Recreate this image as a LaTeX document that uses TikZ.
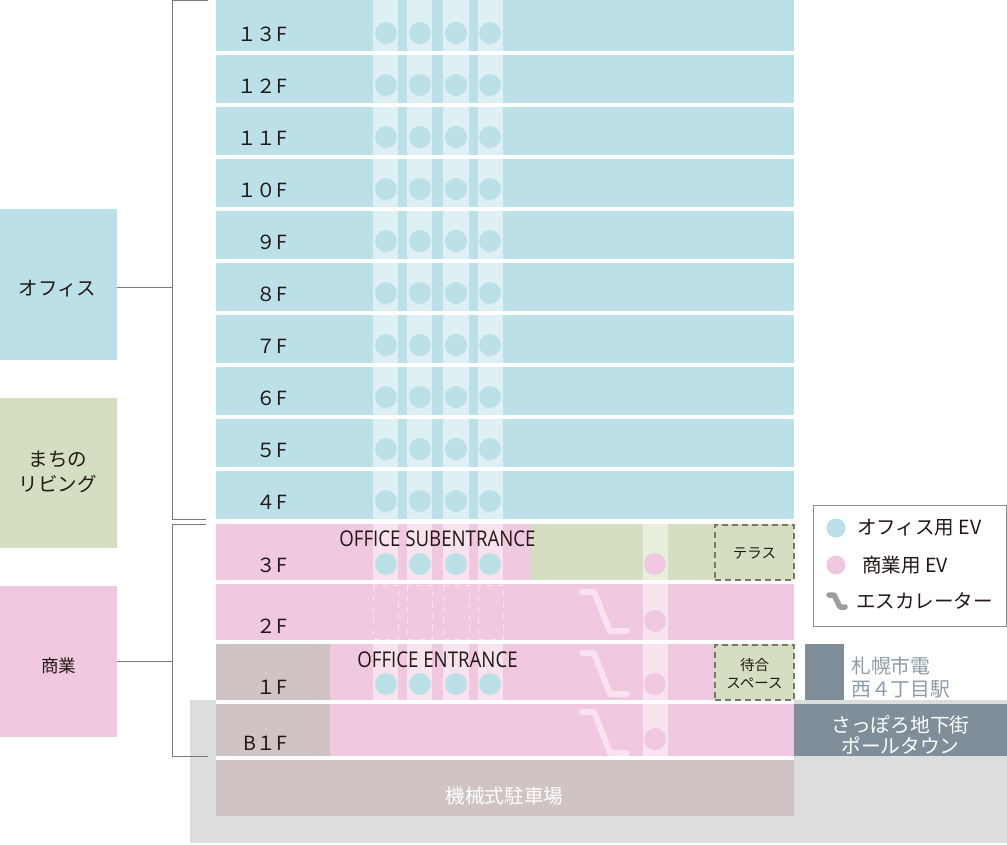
\documentclass[tikz,border=0pt]{standalone}
\usepackage{fontspec}
\setmainfont{Noto Sans CJK JP}
\newfontfamily\latn[FakeStretch=0.86]{Open Sans}
\definecolor{cblue}{HTML}{BBE0E7}
\definecolor{cpink}{HTML}{F0C8DF}
\definecolor{cgreen}{HTML}{D3DFC0}
\definecolor{cbrown}{HTML}{CFC3C3}
\definecolor{cgrey}{HTML}{DCDDDD}
\definecolor{cdark}{HTML}{7F8E99}
\definecolor{cblueL}{HTML}{DFF0F4}
\definecolor{cpinkL}{HTML}{F8E3EF}
\definecolor{cgreenL}{HTML}{E8EFDD}
\definecolor{ctext}{HTML}{231815}
\definecolor{cdash}{HTML}{767A64}
\definecolor{cstation}{HTML}{8C9CA9}
\tikzset{
  blk/.style={inner sep=0pt,outer sep=0pt},
  side/.style={inner sep=0pt,text=ctext,align=center,font=\fontsize{19.5}{25}\selectfont},
  small/.style={inner sep=0pt,text=ctext,align=center,font=\fontsize{14.5}{18}\selectfont},
  flabel/.style={inner sep=0pt,anchor=east,text=ctext,font=\fontsize{19.5}{20}\selectfont},
  evdot/.style={inner sep=0pt,minimum size=22pt,circle,fill=#1},
  escal/.style={line width=6pt,line cap=round,line join=round,draw=#1},
  brack/.style={draw=black!52,line width=0.8pt},
  dashbox/.style={draw=cdash,line width=2pt,dash pattern=on 6pt off 4pt,fill=cgreen},
  entr/.style={inner sep=0pt,text=ctext,font=\latn\fontsize{21.7}{24}\selectfont},
  legtext/.style={inner sep=0pt,anchor=west,text=ctext,font=\fontsize{19.5}{22}\selectfont},
  wlabel/.style={inner sep=0pt,text=white,align=center,font=\fontsize{19.7}{21}\selectfont}
}
\newcommand{\rectnode}[6]{% style, name, x0, y0, x1, y1
  \pgfmathsetlengthmacro{\rw}{(#5-#3)*1pt}\pgfmathsetlengthmacro{\rh}{(#6-#4)*1pt}
  \node[blk,#1,anchor=north west,minimum width=\rw,minimum height=\rh] (#2) at (#3,#4) {};}
\begin{document}
\begin{tikzpicture}[x=1pt,y=-1pt]
\useasboundingbox (0,0) rectangle (1007,844);
% ground
\fill[cgrey] (190,700) rectangle (1007,843);
\fill[white] (216,700) rectangle (794,704);
\fill[white] (216,756) rectangle (794,760);
% office floors
\foreach \t/\b/\lab [count=\i] in {0/51/１３F,55/103/１２F,107/155/１１F,159/207/１０F,211/259/９F,263/311/８F,315/363/７F,367/415/６F,419/467/５F,471/519/４F}{
  \rectnode{fill=cblue}{fl\i}{216}{\t}{794}{\b}
  \foreach \a/\c in {373/398,407/432,443/469,478/503}{\fill[cblueL] (\a,\t) rectangle (\c,\b);}
  \foreach \c in {386,420,456,490}{\node[evdot=cblue] at (\c,\b-18) {};}
  \node[flabel] at (287,\b-17) {\lab};
}
% 3F
\rectnode{fill=cpink}{fl3}{216}{524}{531}{580}
\fill[cgreen] (531,524) rectangle (794,580);
\foreach \a/\c in {373/398,407/432,443/469,478/503}{\fill[cpinkL] (\a,524) rectangle (\c,580);}
\fill[cgreenL] (643,524) rectangle (668,580);
\foreach \c in {386,420,456,490}{\node[evdot=cblue] at (\c,564) {};}
\node[evdot=cpink] at (655,564) {};
\node[flabel] at (287,565.5) {３F};
\node[entr] (subent) at (437.5,538.5) {OFFICE SUBENTRANCE};
\rectnode{dashbox}{terrace}{715}{525}{794}{580}
\node[small] (terracelab) at (754.5,553) {テラス};
% 2F
\rectnode{fill=cpink}{fl2}{216}{584}{794}{640}
\foreach \a/\c in {373/398,407/432,443/469,478/503}{\draw[cpinkL,line width=1pt,dash pattern=on 6pt off 5pt] (\a,585) rectangle (\c,639);}
\fill[cpinkL] (643,584) rectangle (668,640);
\node[evdot=cpink] at (655,621) {};
\draw[escal=cpinkL] (582,592) -- (594,592) -- (610,631) -- (627,631);
\node[flabel] at (287,626.5) {２F};
% 1F
\rectnode{fill=cpink}{fl1}{216}{644}{794}{700}
\fill[cbrown] (216,644) rectangle (330,700);
\foreach \a/\c in {373/398,407/432,443/469,478/503}{\fill[cpinkL] (\a,644) rectangle (\c,700);}
\fill[cpinkL] (643,644) rectangle (668,700);
\foreach \c in {386,420,456,490}{\node[evdot=cblue] at (\c,684) {};}
\node[evdot=cpink] at (655,684) {};
\draw[escal=cpinkL] (582,653) -- (594,653) -- (610,694) -- (627,694);
\node[flabel] at (287,687.5) {１F};
\node[entr] (ent) at (437.5,659.5) {OFFICE ENTRANCE};
\rectnode{dashbox}{wait}{715}{645}{794}{700}
\node[small] (waitlab) at (754.5,674) {待合\\スペース};
% B1F
\rectnode{fill=cpink}{flb}{216}{704}{794}{756}
\fill[cbrown] (216,704) rectangle (330,756);
\fill[cpinkL] (643,704) rectangle (668,756);
\node[evdot=cpink] at (655,739) {};
\draw[escal=cpinkL] (582,712) -- (594,712) -- (610,753) -- (627,753);
\node[flabel] at (287,743.5) {B１F};
% parking
\rectnode{fill=cbrown}{park}{216}{760}{794}{816}
\node[wlabel] (parklab) at (504.5,796) {機械式駐車場};
% station
\rectnode{fill=cdark}{tram}{805}{644}{844}{700}
\node[inner sep=0pt,anchor=west,align=left,text=cstation,font=\fontsize{19.8}{23}\selectfont] (tramlab) at (851,677.5) {札幌市電\\西４丁目駅};
\rectnode{fill=cdark}{pole}{794}{704}{1007}{756}
\node[wlabel] (polelab) at (900.5,734.5) {さっぽろ地下街\\ポールタウン};
% left boxes
\rectnode{fill=cblue}{office}{0}{209}{117}{360}
\node[side] (officelab) at (57.5,288.5) {オフィス};
\rectnode{fill=cgreen}{machi}{0}{398}{117}{548}
\node[side] (machilab) at (58,472) {まちの\\リビング};
\rectnode{fill=cpink}{shop}{0}{586}{117}{737}
\node[side,font=\fontsize{17.5}{20}\selectfont] (shoplab) at (59,665.5) {商業};
% brackets
\coordinate (ua) at (208,0.4); \coordinate (ub) at (172,0.4); \coordinate (uc) at (172,519); \coordinate (ud) at (206,519);
\coordinate (la) at (206,524); \coordinate (lb) at (172,524); \coordinate (lc) at (172,756.5); \coordinate (ld) at (208,756.5);
\coordinate (os) at (172,287); \coordinate (ss) at (172,661.5);
\draw[brack] (ua) -- (ub) -- (uc) -- (ud);
\draw[brack] (la) -- (lb) -- (lc) -- (ld);
\draw[brack] (office.east |- os) -- (os);
\draw[brack] (shop.east) -- (ss);
% legend
\rectnode{draw=black!45,line width=1pt,fill=white}{legend}{813.5}{505}{1006.5}{626}
\node[evdot=cblue,minimum size=19pt] (legA) at (836,528) {};
\node[evdot=cpink,minimum size=19pt] (legB) at (836,565) {};
\draw[escal=black!38,line width=5.5pt] (829,595) -- (834,595) -- (840,607) -- (845,607);
\node[legtext] at (857,528) {オフィス用 EV};
\node[legtext] at (862,565) {商業用 EV};
\node[legtext] at (856,601) {エスカレーター};
\end{tikzpicture}
\end{document}
